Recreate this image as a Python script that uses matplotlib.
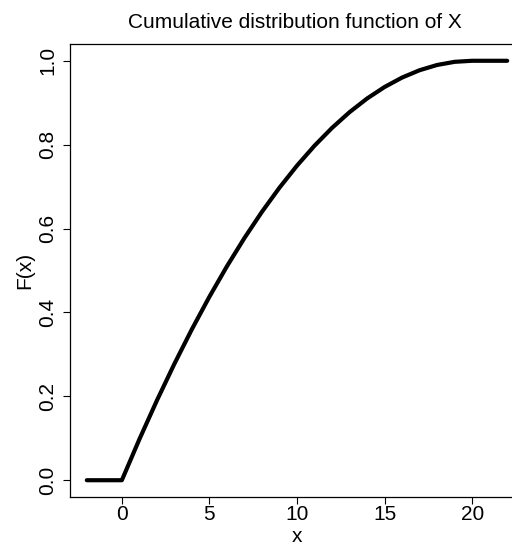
import numpy as np
import matplotlib.pyplot as plt

plt.rcParams['font.family'] = ['Liberation Sans', 'DejaVu Sans']

# values
x_vals = [-2, 0, 1, 2, 3, 4, 5, 6, 7, 8, 9, 10, 11, 12, 13, 14, 15, 16, 17, 18, 19, 20, 22]
f_vals = [0.0, 0.0, 0.0975, 0.19, 0.2775, 0.36, 0.4375, 0.51, 0.5775, 0.64, 0.6975,
          0.75, 0.7975, 0.84, 0.8775, 0.91, 0.9375, 0.96, 0.9775, 0.99, 0.9975, 1.0, 1.0]
x_ticks = [0, 5, 10, 15, 20]
y_ticks = [0.0, 0.2, 0.4, 0.6, 0.8, 1.0]

W, H = 512, 544
fig = plt.figure(figsize=(W / 100, H / 100), dpi=100)
ax = fig.add_axes([70 / W, 47 / H, (524 - 70) / W, (497 - 44) / H])

ax.plot(x_vals, f_vals, color='black', lw=3, solid_capstyle='round', solid_joinstyle='round')
ax.set_xlim(-2.96, 22.96)
ax.set_ylim(-0.04, 1.04)

ax.set_xticks(x_ticks)
ax.set_xticklabels([str(t) for t in x_ticks])
ax.set_yticks(y_ticks)
ax.set_yticklabels(['%.1f' % t for t in y_ticks], rotation=90, va='center')
ax.tick_params(length=5, width=0.8, labelsize=15)
ax.tick_params(axis='x', pad=1)
ax.tick_params(axis='y', pad=4)

for s in ax.spines.values():
    s.set_linewidth(0.9)

fig.text(295 / W, 1 - 22 / H, 'Cumulative distribution function of X', ha='center', va='center', fontsize=15)
fig.text(297 / W, 1 - 537 / H, 'x', ha='center', va='center', fontsize=15)
fig.text(25 / W, 1 - 270 / H, 'F(x)', ha='center', va='center', rotation=90, fontsize=15)

fig.savefig('out.png', dpi=100)
